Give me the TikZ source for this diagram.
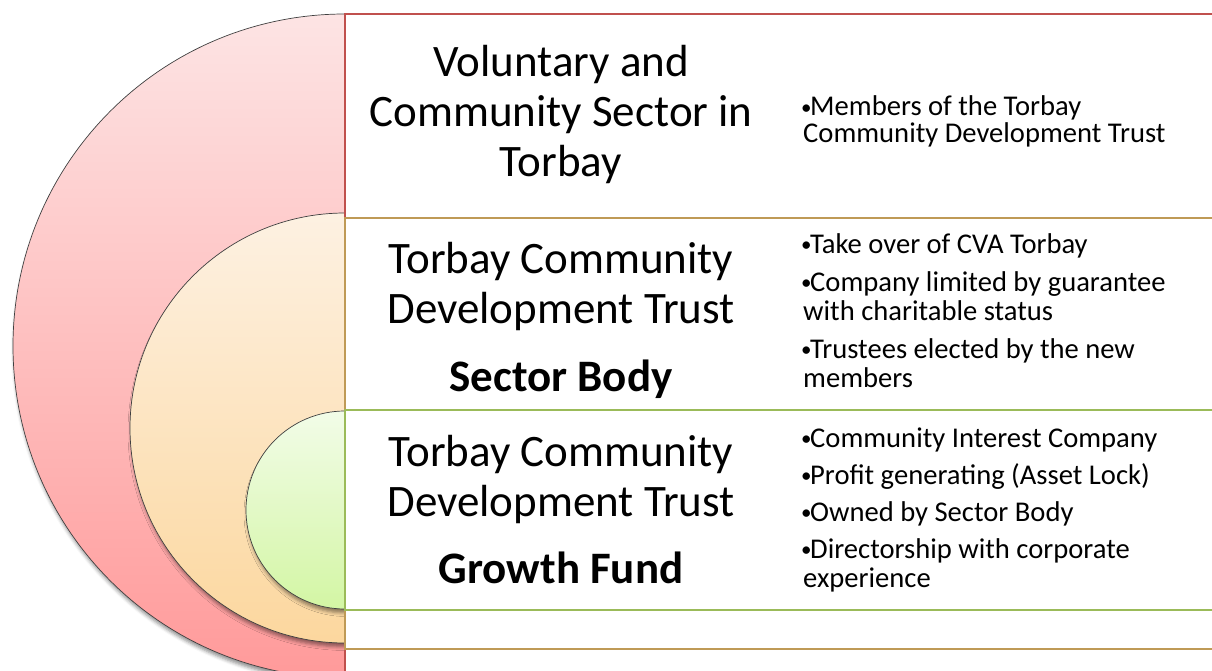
\documentclass[tikz,border=0pt]{standalone}
\usepackage{fontspec}
\setmainfont{Carlito}
\usetikzlibrary{shadows.blur}

\definecolor{pinkTop}{HTML}{FDE4E4}
\definecolor{pinkBot}{HTML}{FF9A9A}
\definecolor{peachTop}{HTML}{FDF1E2}
\definecolor{peachBot}{HTML}{FCD79E}
\definecolor{limeTop}{HTML}{F2FCE8}
\definecolor{limeBot}{HTML}{D3F6A4}
\definecolor{redLine}{HTML}{C0504D}
\definecolor{tanLine}{HTML}{BF9A56}
\definecolor{greenLine}{HTML}{9BBB59}

% small bullet followed by the item text
\newcommand{\itembullet}{\makebox[9pt][l]{\raisebox{1.5pt}{\fontsize{21}{21}\selectfont •}}}

\begin{document}
\begin{tikzpicture}[x=1pt,y=-1pt,
  disc/.style={draw=black!75, line width=0.7pt,
    blur shadow={shadow xshift=1.5pt, shadow yshift=-4pt, shadow opacity=45, shadow blur radius=3.5pt}},
  frame/.style={line width=2pt},
  title/.style={anchor=base, inner sep=0pt, font=\fontsize{45}{50}\selectfont},
  titlebf/.style={anchor=base, inner sep=0pt, font=\fontsize{45}{50}\selectfont\bfseries},
  item/.style={anchor=base west, inner sep=0pt, font=\fontsize{28.6}{30}\selectfont},
]
\useasboundingbox (0,0) rectangle (1212,671);
\clip (0,0) rectangle (1212,671);

% nested half discs on the left
\begin{scope}
  \clip (-10,-10) rectangle (345,700);
  \path[disc, top color=pinkTop, bottom color=pinkBot] (345,346) circle[radius=332];
  \path[disc, top color=peachTop, bottom color=peachBot] (345,428) circle[radius=215];
  \path[disc, top color=limeTop, bottom color=limeBot] (345,510) circle[radius=99];
\end{scope}

% nested frames on the right
\draw[frame, redLine] (1220,14) -- (345,14) -- (345,690);
\draw[frame, tanLine] (1220,218) -- (345,218) -- (345,649) -- (1220,649);
\draw[frame, greenLine] (1220,410) -- (345,410) -- (345,610) -- (1220,610);

% outer level
\node[title] (t1a) at (561,77)  {Voluntary and};
\node[title] (t1b) at (561,127) {Community Sector in};
\node[title] (t1c) at (561,177) {Torbay};
\node[item] (i1a) at (801,116) {\itembullet Members of the Torbay};
\node[item] (i1b) at (803,143) {Community Development Trust};

% middle level
\node[title] (t2a) at (561,273) {Torbay Community};
\node[title] (t2b) at (561,323) {Development Trust};
\node[titlebf] (t2c) at (561,391) {Sector Body};
\node[item] (i2a) at (801,253) {\itembullet Take over of CVA Torbay};
\node[item] (i2b) at (801,291) {\itembullet Company limited by guarantee};
\node[item] (i2c) at (803,320) {with charitable status};
\node[item] (i2d) at (801,358) {\itembullet Trustees elected by the new};
\node[item] (i2e) at (803,387) {members};

% inner level
\node[title] (t3a) at (561,466) {Torbay Community};
\node[title] (t3b) at (561,516) {Development Trust};
\node[titlebf] (t3c) at (561,583) {Growth Fund};
\node[item] (i3a) at (801,447) {\itembullet Community Interest Company};
\node[item] (i3b) at (801,484) {\itembullet Profit generating (Asset Lock)};
\node[item] (i3c) at (801,521) {\itembullet Owned by Sector Body};
\node[item] (i3d) at (801,558) {\itembullet Directorship with corporate};
\node[item] (i3e) at (803,587) {experience};
\end{tikzpicture}
\end{document}
